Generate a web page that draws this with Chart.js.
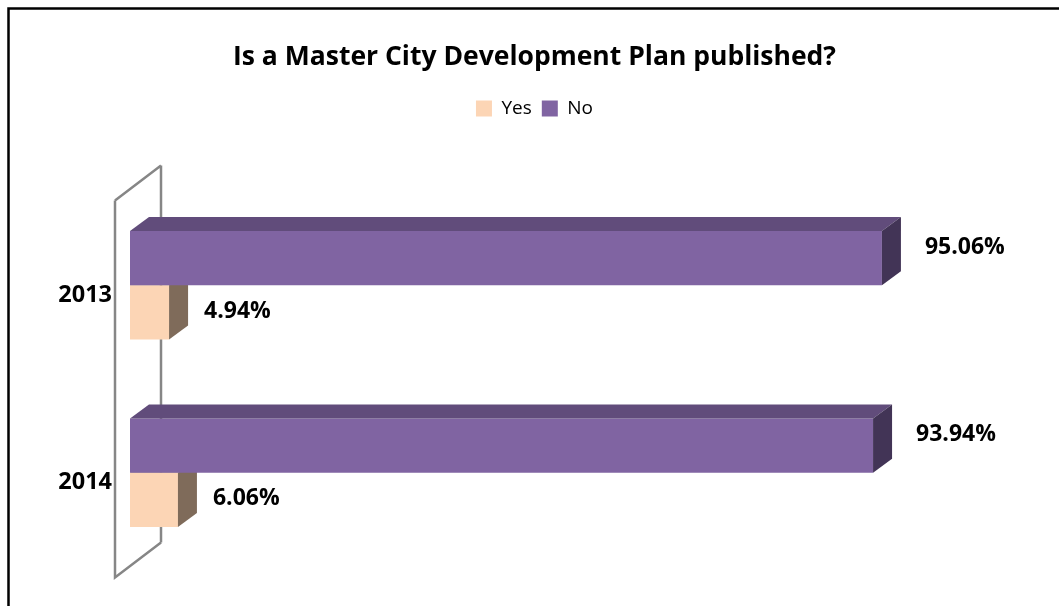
<!DOCTYPE html>
<html>
<head>
<meta charset="utf-8">
<script src="https://cdn.jsdelivr.net/npm/chart.js@4/dist/chart.umd.min.js"></script>
<style>
  html, body { margin: 0; padding: 0; background: #fff; }
  #wrap { width: 1059px; height: 606px; }
</style>
</head>
<body>
<div id="wrap"><canvas id="planChart" width="1059" height="606"></canvas></div>
<script>
// categories and series
const years = ['2013', '2014'];
const yesValues = [4.94, 6.06];
const noValues = [95.06, 93.94];

// 3D depth of the bars
const depthX = 19;
const depthY = 14;

// draws the frame, the left wall and the 3D faces of the bars
const fake3d = {
    id: 'fake3d',
    beforeDraw(chart) {
        const ctx = chart.ctx;
        ctx.save();
        ctx.strokeStyle = '#000';
        ctx.lineWidth = 2.5;
        ctx.beginPath();
        ctx.moveTo(8.5, 606);
        ctx.lineTo(8.5, 8.5);
        ctx.lineTo(1059, 8.5);
        ctx.stroke();
        ctx.restore();
    },
    beforeDatasetsDraw(chart) {
        const ctx = chart.ctx;
        const a = chart.chartArea;
        const fx = a.left - 15, bx = a.left + 31;
        ctx.save();
        ctx.strokeStyle = '#868686';
        ctx.lineWidth = 2.5;
        ctx.beginPath();
        ctx.moveTo(bx, a.top - 26);
        ctx.lineTo(bx, a.bottom - 24);
        ctx.moveTo(fx, a.top + 9);
        ctx.lineTo(bx, a.top - 26);
        ctx.moveTo(fx, a.top + 9);
        ctx.lineTo(fx, a.bottom + 11);
        ctx.lineTo(bx, a.bottom - 24);
        ctx.stroke();
        ctx.restore();
    },
    afterDatasetDraw(chart, args) {
        const ctx = chart.ctx;
        const ds = chart.data.datasets[args.index];
        ctx.save();
        args.meta.data.forEach(function (bar, i) {
            const x0 = bar.base, x1 = bar.x;
            const y0 = bar.y - bar.height / 2, y1 = bar.y + bar.height / 2;
            // top face
            ctx.fillStyle = ds.topColor;
            ctx.beginPath();
            ctx.moveTo(x0, y0);
            ctx.lineTo(x0 + depthX, y0 - depthY);
            ctx.lineTo(x1 + depthX, y0 - depthY);
            ctx.lineTo(x1, y0);
            ctx.closePath();
            ctx.fill();
            // side face
            ctx.fillStyle = ds.sideColor;
            ctx.beginPath();
            ctx.moveTo(x1, y0);
            ctx.lineTo(x1 + depthX, y0 - depthY);
            ctx.lineTo(x1 + depthX, y1 - depthY);
            ctx.lineTo(x1, y1);
            ctx.closePath();
            ctx.fill();
            // value label
            ctx.fillStyle = '#000';
            ctx.font = 'bold 23px "Open Sans"';
            ctx.textAlign = 'left';
            ctx.textBaseline = 'middle';
            ctx.fillText(ds.data[i].toFixed(2) + '%', x1 + ds.labelDx, bar.y + ds.labelDy);
        });
        ctx.restore();
    }
};

let ctx = document.getElementById('planChart').getContext('2d');

let planChart = new Chart(ctx, {
    type: 'bar',
    data: {
        labels: years,
        datasets: [{
            label: 'No',
            data: noValues,
            backgroundColor: '#8064A2',
            topColor: '#614C7B',
            sideColor: '#423456',
            labelDx: 43,
            labelDy: -11
        }, {
            label: 'Yes',
            data: yesValues,
            backgroundColor: '#FCD5B5',
            topColor: '#C2A68C',
            sideColor: '#7F6B5A',
            labelDx: 35,
            labelDy: -1
        }]
    },
    options: {
        indexAxis: 'y',
        responsive: false,
        animation: false,
        categoryPercentage: 0.5775,
        barPercentage: 1,
        layout: {
            padding: { left: 10, right: 0, top: 0, bottom: 39.5 }
        },
        scales: {
            x: {
                position: 'top',
                min: 0,
                max: 100,
                ticks: { display: false },
                grid: { display: false, drawTicks: false },
                border: { display: false },
                afterFit: function (scale) { scale.height = 63.5; }
            },
            y: {
                ticks: {
                    color: '#000',
                    font: { family: 'Open Sans', size: 23.5, weight: 'bold' },
                    padding: 18,
                    labelOffset: 10
                },
                grid: { display: false, drawTicks: false },
                border: { display: false },
                afterFit: function (scale) { scale.width = 120; }
            },
            yRight: {
                type: 'category',
                labels: years,
                position: 'right',
                ticks: { display: false },
                grid: { display: false, drawTicks: false },
                border: { display: false },
                afterFit: function (scale) { scale.width = 138; }
            }
        },
        plugins: {
            title: {
                display: true,
                text: 'Is a Master City Development Plan published?',
                color: '#000',
                font: { family: 'Open Sans', size: 26.5, weight: 'bold', lineHeight: 1.2 },
                padding: { top: 41.1, bottom: 16.1 }
            },
            legend: {
                reverse: true,
                labels: {
                    color: '#000',
                    font: { family: 'Open Sans', size: 19 },
                    boxWidth: 16,
                    boxHeight: 16,
                    padding: 10
                }
            },
            tooltip: { enabled: false }
        }
    },
    plugins: [fake3d]
});
</script>
</body>
</html>
